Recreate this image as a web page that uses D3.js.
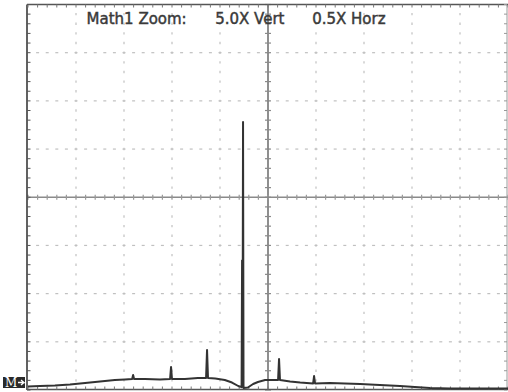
<!DOCTYPE html>
<html>
<head>
<meta charset="utf-8">
<script src="https://cdn.jsdelivr.net/npm/d3@7"></script>
<style>
  html, body { margin: 0; padding: 0; background: #fff; }
  svg { display: block; }
</style>
</head>
<body>
<svg id="scope" width="508" height="392"></svg>
<script>
// Screen divisions of the scope graticule
const xDivisions = 10;
const yDivisions = 8;
const minorPerDiv = 5;

// Header readout
const headerLabels = ["Math1 Zoom:", "5.0X Vert", "0.5X Horz"];
const headerDivPos = [1.22, 3.9, 5.92];

// Math1 trace (x in divisions, level in divisions above the bottom edge)
const traceX = [0, 0.25, 0.56, 0.875, 1.19, 1.5, 1.81, 2.02, 2.17, 2.19, 2.21,
  2.44, 2.75, 2.96, 2.98, 3.0, 3.27, 3.54, 3.71, 3.73, 3.75, 3.9, 4.1, 4.25, 4.38,
  4.45, 4.46, 4.47, 4.48, 4.49, 4.58, 4.69, 4.79, 4.94, 5.08, 5.21, 5.23, 5.25,
  5.46, 5.67, 5.94, 5.96, 5.98, 6.29, 6.6, 6.92, 7.33, 7.75, 8.06, 8.375, 8.79,
  9.21, 9.625, 10];
const traceLevel = [0.073, 0.083, 0.093, 0.114, 0.145, 0.176, 0.207, 0.218, 0.228, 0.311, 0.228,
  0.228, 0.218, 0.228, 0.477, 0.228, 0.228, 0.249, 0.249, 0.829, 0.249, 0.238, 0.207, 0.155, 0.083,
  0.06, 2.69, 0.3, 5.56, 0.04, 0.052, 0.124, 0.166, 0.207, 0.207, 0.207, 0.642, 0.207,
  0.176, 0.155, 0.135, 0.29, 0.135, 0.145, 0.135, 0.124, 0.104, 0.083, 0.062, 0.041, 0.031,
  0.031, 0.031, 0.031];

const svg = d3.select("#scope");
const x = d3.scaleLinear().domain([0, xDivisions]).range([28, 508]);
const y = d3.scaleLinear().domain([0, yDivisions]).range([390, 4.5]);

const minorX = d3.range(0, xDivisions * minorPerDiv + 1).map(i => i / minorPerDiv);
const minorY = d3.range(0, yDivisions * minorPerDiv + 1).map(i => i / minorPerDiv);

const grid = svg.append("g");

// Dotted division lines: vertical
d3.range(1, xDivisions).filter(d => d !== xDivisions / 2).forEach(d => {
  grid.selectAll(null).data(minorY.slice(1, -1)).join("line")
    .attr("x1", x(d)).attr("x2", x(d))
    .attr("y1", v => y(v) - 1.2).attr("y2", v => y(v) + 1.2)
    .attr("stroke", "#c0c0c0").attr("stroke-width", 1.2);
});
// Dotted division lines: horizontal
d3.range(1, yDivisions).filter(d => d !== yDivisions / 2).forEach(d => {
  grid.selectAll(null).data(minorX.slice(1, -1)).join("line")
    .attr("x1", v => x(v) - 1.5).attr("x2", v => x(v) + 1.5)
    .attr("y1", y(d)).attr("y2", y(d))
    .attr("stroke", "#c0c0c0").attr("stroke-width", 1.2);
});

// Center crosshair with minor ticks
const cx = x(xDivisions / 2), cy = y(yDivisions / 2);
grid.append("line").attr("x1", x(0)).attr("x2", x(xDivisions))
  .attr("y1", cy).attr("y2", cy).attr("stroke", "#8a8a8a").attr("stroke-width", 1.3);
grid.append("line").attr("x1", cx).attr("x2", cx)
  .attr("y1", y(0)).attr("y2", y(yDivisions)).attr("stroke", "#6a6a6a").attr("stroke-width", 1.5);
grid.selectAll(null).data(minorX).join("line")
  .attr("x1", v => x(v)).attr("x2", v => x(v))
  .attr("y1", cy - 2.5).attr("y2", cy + 2.5)
  .attr("stroke", "#9a9a9a").attr("stroke-width", 1.2);
grid.selectAll(null).data(minorY).join("line")
  .attr("x1", cx - 3).attr("x2", cx + 3)
  .attr("y1", v => y(v)).attr("y2", v => y(v))
  .attr("stroke", "#8a8a8a").attr("stroke-width", 1.2);

// Frame with edge ticks
const frame = svg.append("g");
frame.append("line").attr("x1", x(0) - 1).attr("x2", x(0) - 1)
  .attr("y1", y(yDivisions)).attr("y2", y(0)).attr("stroke", "#3a3a3a").attr("stroke-width", 1.6);
frame.append("line").attr("x1", x(xDivisions) - 1).attr("x2", x(xDivisions) - 1)
  .attr("y1", y(yDivisions)).attr("y2", y(0)).attr("stroke", "#9a9a9a").attr("stroke-width", 1);
frame.append("line").attr("x1", x(0) - 1).attr("x2", x(xDivisions))
  .attr("y1", y(yDivisions)).attr("y2", y(yDivisions)).attr("stroke", "#555").attr("stroke-width", 1.3);
frame.append("line").attr("x1", x(0) - 1).attr("x2", x(xDivisions))
  .attr("y1", y(0) - 0.5).attr("y2", y(0) - 0.5).attr("stroke", "#555").attr("stroke-width", 1.3);
frame.selectAll(null).data(minorX).join("line")
  .attr("x1", v => x(v)).attr("x2", v => x(v))
  .attr("y1", y(yDivisions)).attr("y2", y(yDivisions) + 3)
  .attr("stroke", "#777").attr("stroke-width", 1);
frame.selectAll(null).data(minorX).join("line")
  .attr("x1", v => x(v)).attr("x2", v => x(v))
  .attr("y1", y(0) - 0.5).attr("y2", y(0) - 3.5)
  .attr("stroke", "#777").attr("stroke-width", 1);
frame.selectAll(null).data(minorY).join("line")
  .attr("x1", x(0) - 1).attr("x2", x(0) + 2.5)
  .attr("y1", v => y(v)).attr("y2", v => y(v))
  .attr("stroke", "#555").attr("stroke-width", 1);
frame.selectAll(null).data(minorY).join("line")
  .attr("x1", x(xDivisions) - 1).attr("x2", x(xDivisions) - 4)
  .attr("y1", v => y(v)).attr("y2", v => y(v))
  .attr("stroke", "#999").attr("stroke-width", 1);

// Math1 trace
const trace = d3.line().x((d, i) => x(traceX[i])).y(d => y(d));
svg.append("path").datum(traceLevel)
  .attr("d", trace)
  .attr("fill", "none")
  .attr("stroke", "#333")
  .attr("stroke-width", 2)
  .attr("stroke-linejoin", "round");

// Header readout
svg.append("g").selectAll("text").data(headerLabels).join("text")
  .attr("x", (d, i) => x(headerDivPos[i]))
  .attr("y", 24)
  .attr("font-family", "DejaVu Sans, sans-serif")
  .attr("font-size", 15)
  .attr("fill", "#3a3a3a")
  .attr("stroke", "#3a3a3a")
  .attr("stroke-width", 0.45)
  .text(d => d);

// Math1 ground reference marker
const marker = svg.append("g").attr("transform", `translate(3, ${y(0) - 13})`);
marker.append("rect").attr("width", 22).attr("height", 11).attr("fill", "#2a2a2a");
marker.append("text").attr("x", 2).attr("y", 10)
  .attr("font-family", "DejaVu Serif, serif").attr("font-size", 12)
  .attr("fill", "#fff").text("M");
marker.append("path").attr("d", "M15,5.5 L21,5.5 L18,3 M21,5.5 L18,8")
  .attr("stroke", "#fff").attr("stroke-width", 1.3).attr("fill", "none");
</script>
</body>
</html>
